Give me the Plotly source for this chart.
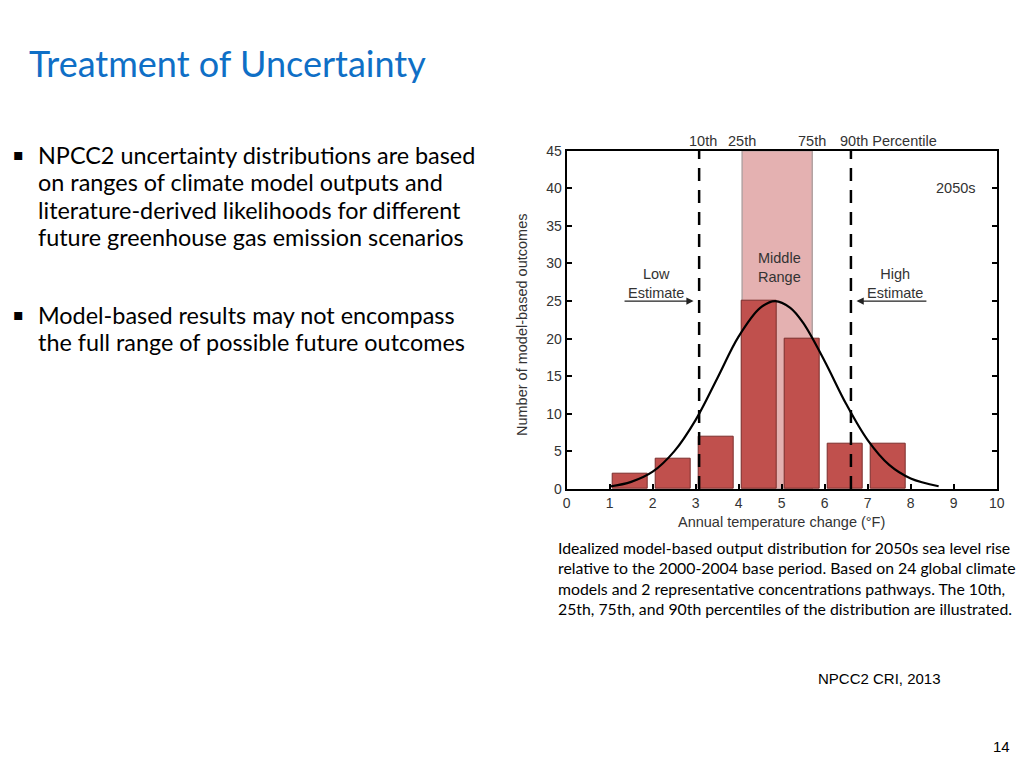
import plotly.graph_objects as go

# ---- data ----
bin_centers = [1.48, 2.48, 3.48, 4.48, 5.48, 6.48, 7.48]
counts = [2, 4, 7, 25, 20, 6, 6]
bar_width = 0.8

curve_x = [1.0, 1.5, 2.0, 2.5, 3.0, 3.5, 4.0, 4.5, 4.85, 5.2, 5.5, 6.0, 6.5, 7.0, 7.5, 8.0, 8.65]
curve_y = [0.33, 0.95, 2.3, 5.0, 9.2, 14.7, 20.3, 24.1, 25.0, 24.1, 22.1, 17.0, 11.3, 6.5, 3.2, 1.4, 0.37]

p10, p25, p75, p90 = 3.08, 4.08, 5.71, 6.61

x_ticks = [0, 1, 2, 3, 4, 5, 6, 7, 8, 9, 10]
y_ticks = [0, 5, 10, 15, 20, 25, 30, 35, 40, 45]

bullets = [
    ["NPCC2 uncertainty distributions are based",
     "on ranges of climate model outputs and",
     "literature-derived likelihoods for different",
     "future greenhouse gas emission scenarios"],
    ["Model-based results may not encompass",
     "the full range of possible future outcomes"],
]
caption = [
    "Idealized model-based output distribution for 2050s sea level rise",
    "relative to the 2000-2004 base period. Based on 24 global climate",
    "models and 2 representative concentrations pathways. The 10th,",
    "25th, 75th, and 90th percentiles of the distribution are illustrated.",
]

# page body has an 8px margin; size the figure so it fills the 1024x768 window
OFF = 8
W, H = 1024 - 2 * OFF, 768 - 2 * OFF
def py(px):
    return (H - (px - OFF)) / H
def pxx(px):
    return (px - OFF) / W

fig = go.Figure()
fig.add_trace(go.Bar(x=bin_centers, y=counts, width=bar_width,
                     marker=dict(color="#c0504d", line=dict(color="#7a2e2c", width=1)),
                     showlegend=False, hoverinfo="skip"))
fig.add_trace(go.Scatter(x=curve_x, y=curve_y, mode="lines",
                         line=dict(color="black", width=2.2, shape="spline", smoothing=1.0),
                         showlegend=False, hoverinfo="skip"))

# shaded middle range
fig.add_shape(type="rect", xref="x", yref="y", x0=p25, x1=p75, y0=0, y1=45,
              fillcolor="#e4b1b1", line=dict(color="#b3a3a3", width=1.5), layer="below")
# dashed percentile lines
for p in (p10, p90):
    fig.add_shape(type="line", xref="x", yref="y", x0=p, x1=p, y0=0, y1=45,
                  line=dict(color="black", width=2.5, dash="13px,9px"), layer="above")

chart_font = "Liberation Sans, Arial, sans-serif"
tick_font = dict(family=chart_font, size=14, color="#333333")

fig.update_layout(
    width=W, height=H,
    margin=dict(l=0, r=0, t=0, b=0, pad=0, autoexpand=False),
    paper_bgcolor="white", plot_bgcolor="white",
    bargap=0,
    xaxis=dict(domain=[pxx(566.7), pxx(996.7)], range=[0, 10], tickvals=x_ticks,
               showline=True, linecolor="black", linewidth=2, mirror=True,
               ticks="inside", ticklen=5, tickcolor="black", tickwidth=1.5,
               showgrid=False, zeroline=False, tickfont=tick_font, automargin=False),
    yaxis=dict(domain=[py(489), py(150.7)], range=[0, 45], tickvals=y_ticks,
               showline=True, linecolor="black", linewidth=2, mirror="ticks",
               ticks="inside", ticklen=5, tickcolor="black", tickwidth=1.5,
               showgrid=False, zeroline=False, tickfont=tick_font, automargin=False),
)

ann = []
def A(xanchor="center", yanchor="middle", **kw):
    kw.setdefault("showarrow", False)
    ann.append(dict(xanchor=xanchor, yanchor=yanchor, **kw))

lab_font = dict(family=chart_font, size=14.5, color="#333333")

# axis titles
A(text="Annual temperature change (°F)", xref="paper", yref="paper",
  x=pxx(781), y=py(522), font=lab_font)
A(text="Number of model-based outcomes", xref="paper", yref="paper", textangle=-90,
  x=pxx(522), y=py(325), font=lab_font)

# top percentile labels
top_y = py(141)
for txt, xv in (("10th", p10 + 0.1), ("25th", p25), ("75th", p75)):
    A(text=txt, xref="x", yref="paper", x=xv, y=top_y, font=lab_font)
A(text="90th Percentile", xref="x", yref="paper", x=6.31, y=top_y, xanchor="left", font=lab_font)

# in-plot labels
A(text="2050s", xref="x", yref="y", x=9.57, y=40, xanchor="right", font=lab_font)
A(text="Low<br>Estimate", xref="x", yref="y", x=2.08, y=27.4, font=lab_font)
A(text="Middle<br>Range", xref="x", yref="y", x=4.94, y=29.5, font=lab_font)
A(text="High<br>Estimate", xref="x", yref="y", x=7.64, y=27.4, font=lab_font)
# arrows
A(text="", xref="x", yref="y", x=2.95, y=25, axref="x", ayref="y", ax=1.31, ay=25,
  showarrow=True, arrowhead=2, arrowsize=1.2, arrowwidth=1.2, arrowcolor="#222222")
A(text="", xref="x", yref="y", x=6.74, y=25, axref="x", ayref="y", ax=8.40, ay=25,
  showarrow=True, arrowhead=2, arrowsize=1.2, arrowwidth=1.2, arrowcolor="#222222")

slide_font = "Lato, Open Sans, sans-serif"
# slide title
A(text="Treatment of Uncertainty", xref="paper", yref="paper", x=pxx(27), y=py(63),
  xanchor="left", font=dict(family=slide_font, size=36, color="#0f6fc6"))

# bullets
starts = [155, 315]
for group, y0 in zip(bullets, starts):
    A(text="▪", xref="paper", yref="paper", x=pxx(11), y=py(y0 - 1), xanchor="left",
      font=dict(family="DejaVu Sans", size=16, color="black"))
    for i, line in enumerate(group):
        A(text=line, xref="paper", yref="paper", x=pxx(36), y=py(y0 + i * 27.3),
          xanchor="left", font=dict(family=slide_font, size=23.4, color="black"))

# caption
for i, line in enumerate(caption):
    A(text=line, xref="paper", yref="paper", x=pxx(556), y=py(547 + i * 20.5),
      xanchor="left", font=dict(family=slide_font, size=15.8, color="black"))

A(text="NPCC2 CRI, 2013", xref="paper", yref="paper", x=pxx(816), y=py(678),
  xanchor="left", font=dict(family=chart_font, size=15, color="black"))
A(text="14", xref="paper", yref="paper", x=pxx(1012), y=py(746),
  xanchor="right", font=dict(family=chart_font, size=15, color="black"))

fig.update_layout(annotations=ann)
fig.write_html("out.html")
